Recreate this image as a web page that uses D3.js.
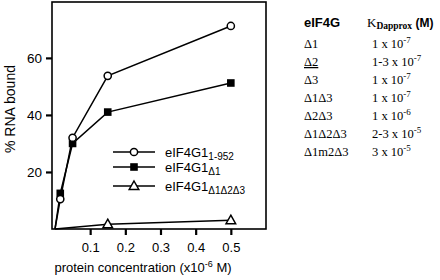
<!DOCTYPE html>
<html><head><meta charset="utf-8">
<script src="https://cdn.jsdelivr.net/npm/d3@7/dist/d3.min.js"></script>
<style>
body{margin:0;background:#fff;}
svg{display:block;}
</style></head>
<body>
<svg id="c" width="440" height="280"></svg>
<script>
// ---- data ----
const concentrations = [0.015, 0.05, 0.15, 0.5];
const seriesFull = [10.5, 32, 53.7, 71.2];      // eIF4G1 1-952 (open circles)
const seriesDelta1 = [12.5, 30, 41, 51.2];      // eIF4G1 Δ1 (filled squares)
const concTriple = [0.15, 0.5];
const seriesTriple = [1.7, 3.1];                // eIF4G1 Δ1Δ2Δ3 (open triangles)
const xTicks = [0.1, 0.2, 0.3, 0.4, 0.5];
const yTicks = [20, 40, 60];
const tableNames = ["Δ1", "Δ2", "Δ3", "Δ1Δ3", "Δ2Δ3", "Δ1Δ2Δ3", "Δ1m2Δ3"];
const tableMant = ["1", "1-3", "1", "1", "1", "2-3", "3"];
const tableExp = ["-7", "-7", "-7", "-7", "-6", "-5", "-5"];

const svg = d3.select("#c");
const sans = "'Liberation Sans', Arial, Helvetica, sans-serif";
const serif = "'Liberation Serif', 'Times New Roman', serif";

const L = 52, R = 266, T = 2, B = 229;
const x = d3.scaleLinear().domain([-0.0085, 0.6]).range([L, R]);
const y = d3.scaleLinear().domain([0, 79.6]).range([B, T]);

// frame
svg.append("rect").attr("x", L).attr("y", T).attr("width", R - L).attr("height", B - T)
  .attr("fill", "none").attr("stroke", "#000").attr("stroke-width", 1.6);

// x axis
const xAxis = d3.axisBottom(x).tickValues(xTicks).tickSize(6).tickPadding(8)
  .tickFormat(d3.format(".1f"));
const gx = svg.append("g").attr("transform", `translate(0,${B})`).call(xAxis);
gx.select(".domain").remove();
gx.selectAll("line").attr("stroke-width", 2.2);
gx.selectAll("text").attr("font-family", sans).attr("font-size", 13).attr("fill", "#000");

// y axis
const yAxis = d3.axisLeft(y).tickValues(yTicks).tickSize(6).tickPadding(4);
const gy = svg.append("g").attr("transform", `translate(${L},0)`).call(yAxis);
gy.select(".domain").remove();
gy.selectAll("line").attr("stroke-width", 2.2);
gy.selectAll("text").attr("font-family", sans).attr("font-size", 13.5).attr("fill", "#000");

// axis titles
svg.append("text").attr("transform", "translate(15,109) rotate(-90)")
  .attr("text-anchor", "middle").attr("font-family", sans).attr("font-size", 14)
  .text("% RNA bound");
const xt = svg.append("text").attr("x", 143).attr("y", 272).attr("text-anchor", "middle")
  .attr("font-family", sans).attr("font-size", 13);
xt.append("tspan").text("protein concentration (x10");
xt.append("tspan").attr("dy", -5).attr("font-size", 9).text("-6");
xt.append("tspan").attr("dy", 5).text(" M)");

// lines
const line = d3.line().x(d => x(d[0])).y(d => y(d[1]));
function series(xs, ys) { return [[0, 0]].concat(xs.map((v, i) => [v, ys[i]])); }
const sFull = series(concentrations, seriesFull);
const sD1 = series(concentrations, seriesDelta1);
const sTri = series(concTriple, seriesTriple);
[sFull, sD1, sTri].forEach(s => {
  svg.append("path").datum(s).attr("d", line).attr("fill", "none")
    .attr("stroke", "#000").attr("stroke-width", 1.5);
});

// markers
function circle(g, cx, cy) {
  g.append("circle").attr("cx", cx).attr("cy", cy).attr("r", 3.6)
    .attr("fill", "#fff").attr("stroke", "#000").attr("stroke-width", 1.5);
}
function square(g, cx, cy) {
  g.append("rect").attr("x", cx - 3.8).attr("y", cy - 3.8).attr("width", 7.6).attr("height", 7.6)
    .attr("fill", "#000");
}
function tri(g, cx, cy) {
  g.append("path").attr("d", `M${cx},${cy - 5}L${cx + 4.8},${cy + 3.5}L${cx - 4.8},${cy + 3.5}Z`)
    .attr("fill", "#fff").attr("stroke", "#000").attr("stroke-width", 1.5);
}
sD1.slice(1).forEach(d => square(svg, x(d[0]), y(d[1])));
sFull.slice(1).forEach(d => circle(svg, x(d[0]), y(d[1])));
sTri.slice(1).forEach(d => tri(svg, x(d[0]), y(d[1])));

// legend
const legend = [
  { y: 152, m: circle, sub: "1-952" },
  { y: 167, m: square, sub: "Δ1" },
  { y: 186, m: tri, sub: "Δ1Δ2Δ3" }
];
legend.forEach(l => {
  svg.append("line").attr("x1", 113).attr("x2", 155).attr("y1", l.y).attr("y2", l.y)
    .attr("stroke", "#000").attr("stroke-width", 1.5);
  l.m(svg, 134, l.y);
  const t = svg.append("text").attr("x", 165).attr("y", l.y + 5)
    .attr("font-family", sans).attr("font-size", 13);
  t.append("tspan").text("eIF4G1");
  t.append("tspan").attr("dy", 3).attr("font-size", 10).text(l.sub);
});

// table
svg.append("text").attr("x", 304).attr("y", 27).attr("font-family", sans)
  .attr("font-size", 13).attr("font-weight", "bold").text("eIF4G");
const kh = svg.append("text").attr("x", 367).attr("y", 27).attr("font-family", serif)
  .attr("font-size", 13);
kh.append("tspan").text("K");
kh.append("tspan").attr("dy", 2).attr("font-size", 9.5).attr("font-weight", "bold").text("Dapprox");
kh.append("tspan").attr("dy", -2).attr("font-family", sans).attr("font-weight", "bold")
  .attr("font-size", 12).text(" (M)");

tableNames.forEach((n, i) => {
  const yy = 48 + i * 18;
  const t1 = svg.append("text").attr("x", 304).attr("y", yy).attr("font-family", serif)
    .attr("font-size", 12.5).text(n);
  if (i === 1) t1.attr("text-decoration", "underline");
  const t2 = svg.append("text").attr("x", 372).attr("y", yy).attr("font-family", serif)
    .attr("font-size", 12.5);
  t2.append("tspan").text(tableMant[i] + " x 10");
  t2.append("tspan").attr("dy", -5).attr("font-size", 9).text(tableExp[i]);
});
</script>
</body></html>
